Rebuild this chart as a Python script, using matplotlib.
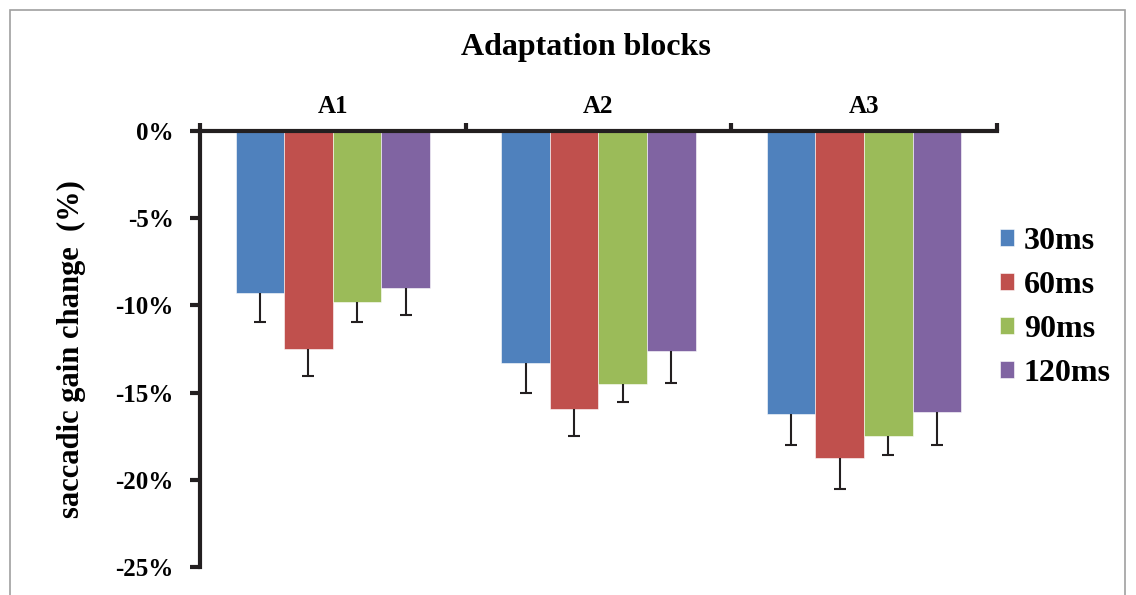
import matplotlib.pyplot as plt
import matplotlib.patches as mpatches
import numpy as np

plt.rcParams['font.family'] = ['Liberation Serif', 'DejaVu Serif']
plt.rcParams['font.weight'] = 'bold'

# data
blocks = ['A1', 'A2', 'A3']
delays = ['30ms', '60ms', '90ms', '120ms']
gain_30 = [-9.28, -13.30, -16.25]
gain_60 = [-12.53, -15.94, -18.74]
gain_90 = [-9.82, -14.50, -17.49]
gain_120 = [-9.01, -12.62, -16.14]
err_30 = [1.65, 1.74, 1.75]
err_60 = [1.54, 1.56, 1.80]
err_90 = [1.16, 1.02, 1.11]
err_120 = [1.53, 1.84, 1.86]
yticks = [0, -5, -10, -15, -20, -25]
ytick_labels = ['0%', '-5%', '-10%', '-15%', '-20%', '-25%']
colors = ['#4F81BD', '#C0504D', '#9BBB59', '#8064A2']

means = [gain_30, gain_60, gain_90, gain_120]
errs = [err_30, err_60, err_90, err_120]

fig = plt.figure(figsize=(11.36, 5.95), dpi=100)
ax = fig.add_axes([0.176, 0.047, 0.7016, 0.733])

# grey frame around the whole chart
fig.patches.append(mpatches.Rectangle((0.009, -0.1), 0.981, 1.083, transform=fig.transFigure,
                                      fill=False, edgecolor='#A0A0A0', linewidth=1.2))

w = 0.183
x = np.arange(len(blocks)) + 0.5
for i in range(4):
    xi = x + (i - 1.5) * w
    m = np.array(means[i])
    e = np.array(errs[i])
    ax.bar(xi, m, width=w, color=colors[i], edgecolor='white', linewidth=0.4,
           label=delays[i], zorder=2)
    # one-sided (downward) error bars
    ax.vlines(xi, m, m - e, color='#231F20', linewidth=1.5, zorder=3)
    ax.plot(xi, m - e, linestyle='none', marker='_', markersize=8, markeredgewidth=1.5,
            color='#231F20', zorder=3)

ax.set_xlim(0, 3)
ax.set_ylim(-25, 0)
ax.spines['bottom'].set_visible(False)
ax.spines['right'].set_visible(False)
for s in ['top', 'left']:
    ax.spines[s].set_linewidth(3)
    ax.spines[s].set_color('#231F20')
    ax.spines[s].set_zorder(4)

ax.set_yticks(yticks)
ax.set_yticklabels(ytick_labels, fontsize=18, fontweight='bold')
ax.tick_params(axis='y', direction='out', length=7, width=3, color='#231F20', pad=12)

ax.xaxis.set_ticks_position('top')
ax.set_xticks([0, 1, 2, 3])
ax.set_xticklabels([])
ax.tick_params(axis='x', which='major', direction='out', length=6, width=3, color='#231F20')
ax.set_xticks(x, minor=True)
ax.set_xticklabels(blocks, minor=True, fontsize=18, fontweight='bold')
ax.tick_params(axis='x', which='minor', length=0, pad=9)

ax.set_ylabel('saccadic gain change  (%)', fontsize=22, fontweight='bold', labelpad=21)
fig.text(0.516, 0.921, 'Adaptation blocks', ha='center', va='center', fontsize=23, fontweight='bold')

ax.legend(loc='center left', bbox_to_anchor=(0.855, 0.483), bbox_transform=fig.transFigure,
          frameon=False, prop={'size': 23, 'weight': 'bold'}, handlelength=0.44, handleheight=0.44,
          handletextpad=0.3, labelspacing=0.47)

fig.savefig('out.png', dpi=100)
